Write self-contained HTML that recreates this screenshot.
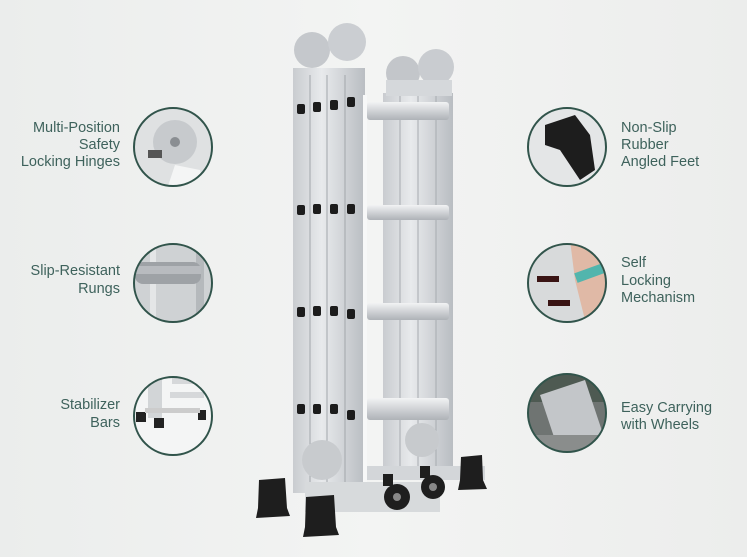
<!DOCTYPE html>
<html><head><meta charset="utf-8"><style>
html,body{margin:0;padding:0;background:#eff0ef;}
svg{display:block}
text{font-family:"Liberation Sans",sans-serif;font-size:14.5px;fill:#3e625c;}
</style></head><body>
<svg width="747" height="557" viewBox="0 0 747 557" xmlns="http://www.w3.org/2000/svg">
<defs>
<linearGradient id="bg" x1="0" x2="1"><stop offset="0" stop-color="#ebedec"/><stop offset="0.5" stop-color="#f3f4f3"/><stop offset="1" stop-color="#ecedec"/></linearGradient>
<linearGradient id="rail" x1="0" x2="1"><stop offset="0" stop-color="#c9ccd0"/><stop offset="0.4" stop-color="#e8eaec"/><stop offset="1" stop-color="#b9bdc2"/></linearGradient>
<linearGradient id="rung" x1="0" y1="0" x2="0" y2="1"><stop offset="0" stop-color="#f2f3f4"/><stop offset="1" stop-color="#aeb2b7"/></linearGradient>
<clipPath id="c1"><circle cx="173" cy="147" r="39"/></clipPath>
<clipPath id="c2"><circle cx="173" cy="283" r="39"/></clipPath>
<clipPath id="c3"><circle cx="173" cy="416" r="39"/></clipPath>
<clipPath id="c4"><circle cx="567" cy="147" r="39"/></clipPath>
<clipPath id="c5"><circle cx="567" cy="283" r="39"/></clipPath>
<clipPath id="c6"><circle cx="567" cy="413" r="39"/></clipPath>
</defs>
<rect width="747" height="557" fill="url(#bg)"/>

<g text-anchor="end">
<text x="120" y="132">Multi-Position</text>
<text x="120" y="149">Safety</text>
<text x="120" y="166">Locking Hinges</text>
<text x="120" y="275">Slip-Resistant</text>
<text x="120" y="293">Rungs</text>
<text x="120" y="409">Stabilizer</text>
<text x="120" y="427">Bars</text>
</g>
<g>
<text x="621" y="132">Non-Slip</text>
<text x="621" y="149">Rubber</text>
<text x="621" y="166">Angled Feet</text>
<text x="621" y="267">Self</text>
<text x="621" y="285">Locking</text>
<text x="621" y="302">Mechanism</text>
<text x="621" y="412">Easy Carrying</text>
<text x="621" y="429">with Wheels</text>
</g>

<g clip-path="url(#c1)"><rect x="130" y="105" width="90" height="90" fill="#dfe1e2"/><circle cx="175" cy="142" r="22" fill="#c7cacd"/><circle cx="175" cy="142" r="5" fill="#8a8e92"/><rect x="148" y="150" width="14" height="8" fill="#555"/><path d="M165 195 L175 165 L200 170 L205 195Z" fill="#f4f5f5"/></g>
<circle cx="173" cy="147" r="39" fill="none" stroke="#31544b" stroke-width="2"/>
<g clip-path="url(#c2)"><rect x="130" y="240" width="90" height="90" fill="#cfd2d4"/><rect x="150" y="240" width="6" height="90" fill="#e4e6e7"/><rect x="196" y="240" width="8" height="90" fill="#b5b9bc"/><rect x="135" y="262" width="66" height="22" rx="8" fill="#9ea2a6"/><rect x="135" y="266" width="66" height="8" fill="#b8bbbf"/></g>
<circle cx="173" cy="283" r="39" fill="none" stroke="#31544b" stroke-width="2"/>
<g clip-path="url(#c3)"><rect x="130" y="375" width="90" height="90" fill="#f4f5f5"/><rect x="148" y="378" width="14" height="40" fill="#d2d5d7"/><rect x="172" y="378" width="30" height="6" fill="#d6d8da"/><rect x="170" y="392" width="34" height="6" fill="#d6d8da"/><rect x="136" y="412" width="10" height="10" fill="#222"/><rect x="154" y="418" width="10" height="10" fill="#222"/><rect x="198" y="410" width="8" height="10" fill="#222"/><rect x="145" y="408" width="55" height="5" fill="#ccc"/></g>
<circle cx="173" cy="416" r="39" fill="none" stroke="#31544b" stroke-width="2"/>
<g clip-path="url(#c4)"><rect x="525" y="105" width="90" height="90" fill="#e4e6e7"/><path d="M545 125 L575 115 L590 135 L595 170 L580 180 L560 150 L545 145Z" fill="#1d1d1d"/></g>
<circle cx="567" cy="147" r="39" fill="none" stroke="#31544b" stroke-width="2"/>
<g clip-path="url(#c5)"><rect x="525" y="240" width="90" height="90" fill="#d8dadb"/><path d="M570 240 L615 250 L615 330 L585 320 L575 280Z" fill="#e0b9a6"/><rect x="575" y="268" width="28" height="10" fill="#52b5ad" transform="rotate(-20 590 273)"/><rect x="537" y="276" width="22" height="6" fill="#3a1414"/><rect x="548" y="300" width="22" height="6" fill="#3a1414"/></g>
<circle cx="567" cy="283" r="39" fill="none" stroke="#31544b" stroke-width="2"/>
<g clip-path="url(#c6)"><rect x="525" y="372" width="90" height="90" fill="#6f7472"/><rect x="525" y="372" width="90" height="30" fill="#4e5a52"/><path d="M540 395 L585 380 L605 440 L560 455Z" fill="#c3c6c9"/><rect x="525" y="435" width="90" height="30" fill="#8a8d8c"/></g>
<circle cx="567" cy="413" r="39" fill="none" stroke="#31544b" stroke-width="2"/>

<g>
<rect x="383" y="93" width="70" height="375" fill="url(#rail)"/>
<line x1="400" y1="93" x2="400" y2="468" stroke="#a7abb0"/>
<line x1="418" y1="93" x2="418" y2="468" stroke="#a7abb0"/>
<line x1="436" y1="93" x2="436" y2="468" stroke="#a7abb0"/>
<circle cx="403" cy="73" r="17" fill="#c3c6ca"/><circle cx="436" cy="67" r="18" fill="#c9ccd0"/>
<rect x="386" y="80" width="66" height="16" fill="#d5d8db"/>
<circle cx="422" cy="440" r="17" fill="#c7cacd"/>
<rect x="365" y="466" width="120" height="14" fill="#d3d6d9"/>
</g>
<g fill="url(#rung)">
<rect x="367" y="102" width="82" height="18" rx="3"/>
<rect x="367" y="205" width="82" height="15" rx="3"/>
<rect x="367" y="303" width="82" height="17" rx="3"/>
<rect x="367" y="398" width="82" height="22" rx="3"/>
</g>
<g>
<circle cx="312" cy="50" r="18" fill="#c5c8cc"/><circle cx="347" cy="42" r="19" fill="#cbced2"/>
<rect x="293" y="68" width="72" height="425" fill="url(#rail)"/>
<line x1="310" y1="75" x2="310" y2="493" stroke="#a2a6ab"/>
<line x1="327" y1="75" x2="327" y2="493" stroke="#a2a6ab"/>
<line x1="345" y1="75" x2="345" y2="493" stroke="#a2a6ab"/>
<rect x="363" y="95" width="4" height="400" fill="#f7f8f8"/>
<circle cx="322" cy="460" r="20" fill="#c8cbce"/>
<g fill="#1c1c1c">
<rect x="297" y="104" width="8" height="10" rx="2"/><rect x="313" y="102" width="8" height="10" rx="2"/><rect x="330" y="100" width="8" height="10" rx="2"/><rect x="347" y="97" width="8" height="10" rx="2"/>
<rect x="297" y="205" width="8" height="10" rx="2"/><rect x="313" y="204" width="8" height="10" rx="2"/><rect x="330" y="204" width="8" height="10" rx="2"/><rect x="347" y="204" width="8" height="10" rx="2"/>
<rect x="297" y="307" width="8" height="10" rx="2"/><rect x="313" y="306" width="8" height="10" rx="2"/><rect x="330" y="306" width="8" height="10" rx="2"/><rect x="347" y="309" width="8" height="10" rx="2"/>
<rect x="297" y="404" width="8" height="10" rx="2"/><rect x="313" y="404" width="8" height="10" rx="2"/><rect x="330" y="404" width="8" height="10" rx="2"/><rect x="347" y="410" width="8" height="10" rx="2"/>
</g>
</g>
<rect x="305" y="482" width="135" height="30" fill="#d7dadc"/>
<g fill="#1e1e1e">
<rect x="383" y="474" width="10" height="12"/><rect x="420" y="466" width="10" height="12"/>
<circle cx="397" cy="497" r="13"/><circle cx="433" cy="487" r="12"/>
<path d="M259 480 L285 478 L287 508 L290 516 L256 518 L258 508Z"/>
<path d="M306 497 L334 495 L336 527 L339 535 L303 537 L305 527Z"/>
<path d="M461 457 L482 455 L483 480 L487 489 L458 490 L460 480Z"/>
</g>
<circle cx="397" cy="497" r="4" fill="#888"/><circle cx="433" cy="487" r="4" fill="#888"/>
</svg>
</body></html>
